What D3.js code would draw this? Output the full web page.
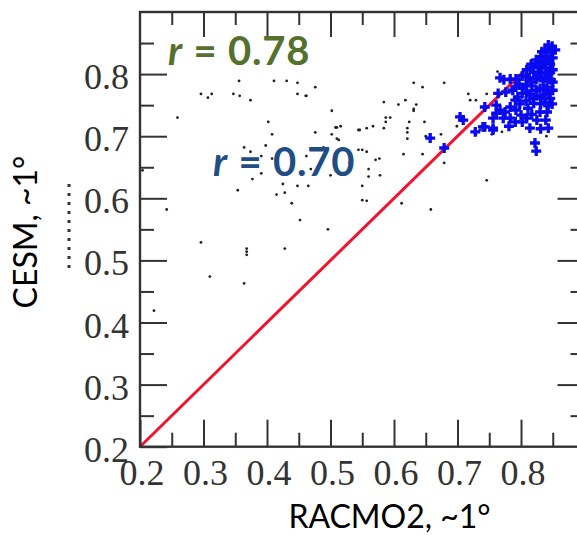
<!DOCTYPE html>
<html lang="en">
<head>
<meta charset="UTF-8">
<title>CESM vs RACMO2</title>
<style>
  body { margin: 0; background: #fff; }
  svg { display: block; }
</style>
</head>
<body>
<svg id="chart" width="577" height="535"></svg>
<script src="https://d3js.org/d3.v7.min.js"></script>
<script>
// axis ticks
var majorTicks = [0.2, 0.3, 0.4, 0.5, 0.6, 0.7, 0.8];
var minorTicks = [0.25, 0.35, 0.45, 0.55, 0.65, 0.75, 0.85];

// black dots (all points)
var grayX = [0.356,0.411,0.431,0.448,0.476,0.296,0.307,0.313,0.347,0.357,0.374,0.448,0.462,
  0.259,0.502,0.402,0.408,0.476,0.508,0.510,0.516,0.502,0.510,0.513,0.544,
  0.364,0.374,0.398,0.489,0.391,0.408,0.462,0.391,0.469,0.377,0.500,0.513,0.544,0.530,
  0.425,0.448,0.465,0.354,0.415,0.428,0.439,0.242,0.204,0.296,0.368,0.428,0.452,
  0.461,0.584,0.607,0.618,0.635,0.631,0.631,0.587,0.594,0.587,0.624,0.648,
  0.546,0.557,0.567,0.584,0.621,0.621,0.621,0.650,0.674,0.699,0.714,0.717,0.746,0.720,
  0.763,0.729,0.735,0.743,0.754,0.550,0.557,0.577,0.571,0.560,0.560,0.578,0.550,
  0.615,0.645,0.679,0.746,0.550,0.557,0.612,0.658,0.496,0.840,
  0.310,0.364,0.368,0.368,0.222,0.645,0.631,0.679,0.729,0.770];
var grayY = [0.789,0.789,0.789,0.786,0.779,0.768,0.762,0.768,0.768,0.765,0.758,0.768,0.765,
  0.730,0.741,0.723,0.703,0.706,0.714,0.714,0.716,0.703,0.696,0.694,0.710,
  0.682,0.675,0.685,0.682,0.668,0.664,0.668,0.640,0.647,0.631,0.637,0.640,0.678,0.657,
  0.623,0.620,0.620,0.613,0.606,0.609,0.592,0.582,0.645,0.529,0.519,0.519,0.565,
  0.765,0.755,0.751,0.758,0.751,0.744,0.741,0.730,0.730,0.723,0.723,0.723,
  0.710,0.713,0.716,0.713,0.713,0.706,0.696,0.700,0.703,0.716,0.714,0.768,0.768,0.758,
  0.804,0.703,0.710,0.710,0.703,0.678,0.675,0.664,0.662,0.647,0.635,0.637,0.620,
  0.671,0.671,0.657,0.629,0.597,0.596,0.592,0.582,0.550,0.700,
  0.474,0.463,0.509,0.514,0.419,0.779,0.786,0.786,0.758,0.707];

// blue crosses
var blueX = [0.843,0.849,0.838,0.847,0.841,0.850,0.831,0.824,0.836,0.846,0.816,0.827,0.839,0.850,
  0.809,0.820,0.831,0.843,0.802,0.813,0.824,0.835,0.847,0.797,0.808,0.817,0.830,0.841,0.850,
  0.802,0.814,0.825,0.836,0.846,0.808,0.820,0.831,0.843,0.795,0.783,0.773,0.767,0.787,0.776,
  0.854,0.833,0.844,0.828,0.819,0.833,0.846,0.808,0.827,0.838,0.850,0.816,0.803,0.824,0.836,
  0.809,0.844,0.819,0.831,0.798,0.838,0.849,0.791,0.792,
  0.761,0.767,0.775,0.783,0.756,0.772,0.783,0.792,0.800,0.809,0.817,0.830,0.841,0.839,0.825,
  0.814,0.802,0.791,0.756,0.743,0.781,0.831,0.843,0.822,0.824,0.811,0.791,
  0.657,0.679,0.704,0.709,0.743,0.740,0.756,0.761,0.764,0.728];
var blueY = [0.847,0.845,0.839,0.836,0.829,0.826,0.828,0.823,0.819,0.816,0.816,0.813,0.810,0.807,
  0.807,0.803,0.802,0.799,0.797,0.794,0.792,0.789,0.791,0.784,0.782,0.781,0.777,0.779,0.774,
  0.769,0.768,0.765,0.766,0.761,0.757,0.753,0.752,0.749,0.763,0.792,0.791,0.794,0.774,0.771,
  0.839,0.836,0.823,0.821,0.811,0.810,0.803,0.797,0.799,0.794,0.787,0.787,0.777,0.774,0.776,
  0.771,0.769,0.761,0.761,0.752,0.755,0.752,0.779,0.792,
  0.750,0.742,0.739,0.747,0.729,0.729,0.729,0.742,0.734,0.729,0.735,0.739,0.739,0.726,0.726,
  0.713,0.723,0.723,0.713,0.715,0.716,0.712,0.713,0.689,0.676,0.745,0.758,
  0.697,0.681,0.731,0.726,0.747,0.715,0.710,0.737,0.769,0.707];

// red 1:1 line
var lineVals = [0.2, 0.81];

var svg = d3.select("#chart");

var x = d3.scaleLinear().domain([0.2, 0.9]).range([140, 584.5]);
var y = d3.scaleLinear().domain([0.2, 0.9]).range([446.7, 12]);

var serif = "'Liberation Serif', 'Times New Roman', serif";
var sans = "Lato, 'Open Sans', sans-serif";

// faint remnant of a cut label on the left
svg.append("line")
  .attr("x1", 69).attr("x2", 69)
  .attr("y1", 184).attr("y2", 274)
  .attr("stroke", "#333").attr("stroke-width", 3)
  .attr("stroke-dasharray", "3,6");

// points
var grayData = grayX.map(function(v, i) { return { x: v, y: grayY[i] }; });
svg.append("g").selectAll("circle")
  .data(grayData)
  .enter()
  .append("circle")
  .attr("cx", function(d) { return x(d.x); })
  .attr("cy", function(d) { return y(d.y); })
  .attr("r", 1.4)
  .attr("fill", "#222");

svg.append("path")
  .datum(lineVals)
  .attr("d", d3.line().x(function(d) { return x(d); }).y(function(d) { return y(d); }))
  .attr("stroke", "#f0142e")
  .attr("stroke-width", 3)
  .attr("fill", "none");

var blueData = blueX.map(function(v, i) { return { x: v, y: blueY[i] }; });
svg.append("g").selectAll("path")
  .data(blueData)
  .enter()
  .append("path")
  .attr("d", d3.symbol().type(d3.symbolCross).size(55))
  .attr("transform", function(d) { return "translate(" + x(d.x) + "," + y(d.y) + ")"; })
  .attr("fill", "#0a0af0");

// axes, ticks pointing inward
function styleAxis(g) {
  g.select(".domain").remove();
  g.selectAll(".tick line").attr("stroke", "#333").attr("stroke-width", 2);
  g.selectAll("text")
    .attr("font-family", serif)
    .attr("font-size", 36)
    .attr("fill", "#333");
}

var fmt = d3.format(".1f");

svg.append("g").attr("transform", "translate(140,0)")
  .call(d3.axisLeft(y).tickValues(majorTicks).tickSize(-27).tickPadding(11).tickFormat(fmt))
  .call(styleAxis)
  .selectAll("text").attr("dy", 14.5);
svg.append("g").attr("transform", "translate(140,0)")
  .call(d3.axisLeft(y).tickValues(minorTicks).tickSize(-14).tickFormat(""))
  .call(styleAxis);

svg.append("g").attr("transform", "translate(0,446.7)")
  .call(d3.axisBottom(x).tickValues(majorTicks).tickSize(-27).tickPadding(0).tickFormat(fmt))
  .call(styleAxis)
  .selectAll("text").attr("dy", 38).attr("y", 0).attr("dx", 1.5);
svg.append("g").attr("transform", "translate(0,446.7)")
  .call(d3.axisBottom(x).tickValues(minorTicks).tickSize(-14).tickFormat(""))
  .call(styleAxis);

svg.append("g").attr("transform", "translate(0,12)")
  .call(d3.axisTop(x).tickValues(majorTicks.slice(1)).tickSize(-25).tickFormat(""))
  .call(styleAxis);
svg.append("g").attr("transform", "translate(0,12)")
  .call(d3.axisTop(x).tickValues(minorTicks).tickSize(-13).tickFormat(""))
  .call(styleAxis);

svg.append("g").attr("transform", "translate(584.5,0)")
  .call(d3.axisRight(y).tickValues(majorTicks.slice(1)).tickSize(-27).tickFormat(""))
  .call(styleAxis);
svg.append("g").attr("transform", "translate(584.5,0)")
  .call(d3.axisRight(y).tickValues(minorTicks).tickSize(-14).tickFormat(""))
  .call(styleAxis);

// frame
svg.append("rect")
  .attr("x", x(0.2)).attr("y", y(0.9))
  .attr("width", x(0.9) - x(0.2)).attr("height", y(0.2) - y(0.9))
  .attr("fill", "none").attr("stroke", "#333").attr("stroke-width", 2.4);

// axis titles
svg.append("text")
  .attr("x", 389.5).attr("y", 528)
  .attr("text-anchor", "middle")
  .attr("font-family", sans).attr("font-size", 32)
  .attr("fill", "#000")
  .text("RACMO2, ~1°");

svg.append("text")
  .attr("transform", "translate(37,232) rotate(-90)")
  .attr("text-anchor", "middle")
  .attr("font-family", sans).attr("font-size", 32)
  .attr("fill", "#000")
  .text("CESM, ~1°");

// correlation labels
function rLabel(px, py, val, color) {
  var t = svg.append("text")
    .attr("x", px).attr("y", py)
    .attr("font-family", sans).attr("font-size", 40)
    .attr("font-weight", "bold")
    .attr("letter-spacing", 0.8)
    .attr("fill", color);
  t.append("tspan").attr("font-style", "italic").text("r");
  t.append("tspan").text(" = " + val);
}
rLabel(168, 65, "0.78", "#56702e");
rLabel(213, 176, "0.70", "#1f4e85");
</script>
</body>
</html>
